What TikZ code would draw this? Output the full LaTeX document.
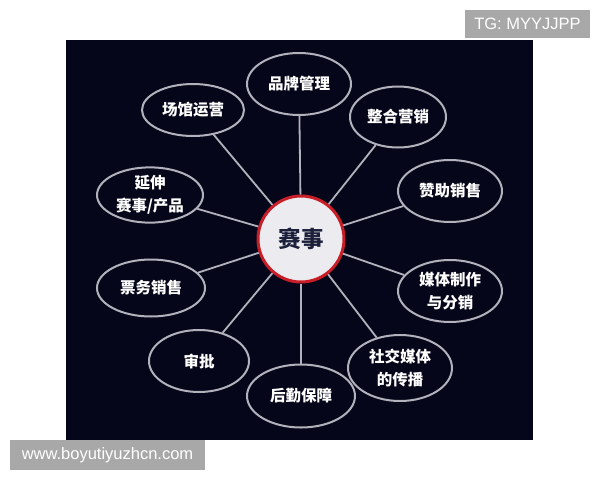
\documentclass[tikz,border=0pt]{standalone}
\usepackage{fontspec}
\setmainfont{Liberation Sans}
\newfontfamily\cjk{Noto Sans CJK SC}
\usepackage{tikz}
\usetikzlibrary{shapes.geometric}

\definecolor{fondo}{RGB}{6,6,26}
\definecolor{bordo}{RGB}{178,178,188}
\definecolor{rosso}{RGB}{200,30,40}
\definecolor{grigio}{RGB}{168,168,168}
\definecolor{centro}{RGB}{236,236,240}
\definecolor{scritta}{RGB}{28,32,58}

\begin{document}
\begin{tikzpicture}[x=1pt,y=-1pt]
	\tikzset{
		voce/.style={ellipse,draw=bordo,line width=2pt,fill=fondo,text=white,
			font=\cjk\bfseries\fontsize{15.5}{23}\selectfont,align=center,
			minimum width=#1,inner sep=0pt},
		voce/.default=104,
		raggio/.style={draw=bordo,line width=1.8pt},
		etichetta/.style={fill=grigio,text=white,font=\fontsize{16.5}{18}\selectfont,
			inner sep=0pt}
	}
	\useasboundingbox (0,0) rectangle (600,480);
	\fill[white] (0,0) rectangle (600,480);
	\fill[fondo] (66,40) rectangle (533,440);

	% le voci attorno
	\node[voce, minimum height=62] (marca) at (299,84) {品牌管理};
	\node[voce=96, minimum height=61] (integr) at (398,117) {整合营销};
	\node[voce=102, minimum height=52] (sede) at (193,110) {场馆运营};
	\node[voce=106, minimum height=55] (estens) at (150,195) {延伸\\赛事/产品};
	\node[voce, minimum height=62] (sponsor) at (450,191) {赞助销售};
	\node[voce=108, minimum height=57] (biglie) at (151,288) {票务销售};
	\node[voce, minimum height=62] (media) at (450,291) {媒体制作\\与分销};
	\node[voce=100, minimum height=62] (appro) at (199,361) {审批};
	\node[voce, minimum height=66] (social) at (400,368) {社交媒体\\的传播};
	\node[voce=108, minimum height=63] (logist) at (301,396) {后勤保障};

	% il centro
	\node[circle,draw=rosso,line width=3pt,fill=centro,minimum size=86,
		text=scritta,font=\cjk\bfseries\fontsize{22.5}{26}\selectfont] (evento) at (301,239) {赛事};

	\foreach \v in {marca,integr,sede,estens,sponsor,biglie,media,appro,social,logist}
		\draw[raggio] (evento) -- (\v);

	\node[etichetta,minimum width=125,minimum height=28] (tg) at (527.5,24) {TG: MYYJJPP};
	\node[etichetta,minimum width=195,minimum height=30] (sito) at (107.5,455) {www.boyutiyuzhcn.com};
\end{tikzpicture}
\end{document}
